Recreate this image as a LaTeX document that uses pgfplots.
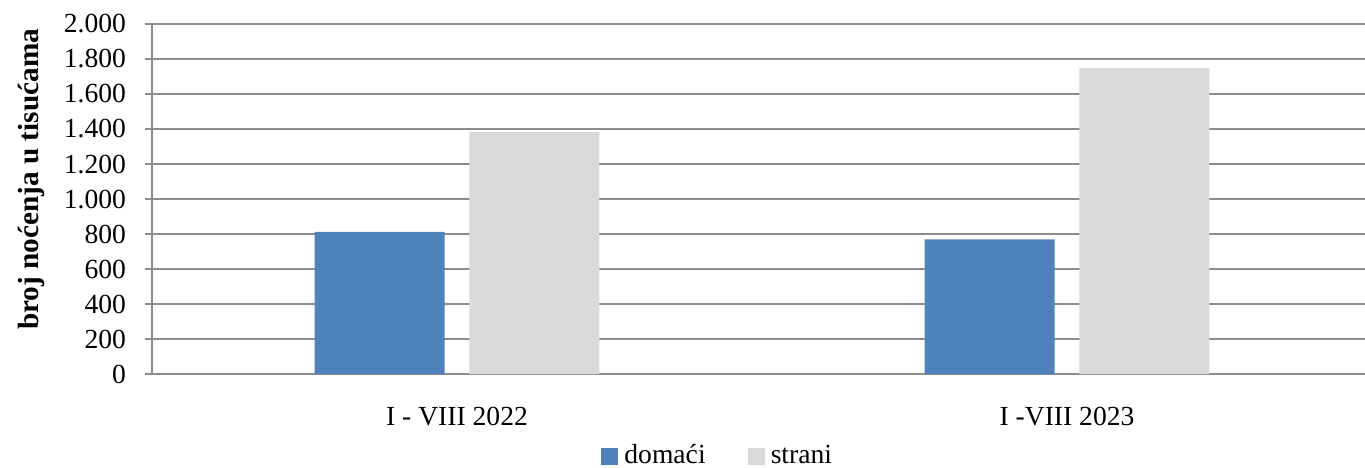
\documentclass[border=0pt]{standalone}
\usepackage{fontspec}
\setmainfont{Liberation Serif}
\usepackage{pgfplots}
\pgfplotsset{compat=1.18}
\definecolor{cblue}{HTML}{4F81BD}
\definecolor{cgrey}{HTML}{D9D9D9}
\definecolor{cgrid}{HTML}{8C8C8C}
\begin{document}
\fontsize{9.2pt}{11pt}\selectfont
\begin{tikzpicture}
\begin{axis}[
  scale only axis,
  width=404.3pt, height=116.67pt,
  xmin=-0.5, xmax=1.4885,
  ymin=0, ymax=2000,
  xtick={0,1},
  xticklabels={I - VIII 2022, I -VIII 2023},
  major x tick style={draw=none},
  ytick={0,200,...,2000},
  ymajorgrids,
  grid style={cgrid, line width=0.7pt},
  axis line style={cgrid, line width=0.7pt},
  axis x line*=bottom,
  axis y line*=left,
  y tick style={cgrid, line width=0.7pt},
  tick align=outside,
  major tick length=2.4pt,
  yticklabel style={font=\fontsize{9.2pt}{11pt}\selectfont, xshift=-3pt},
  xticklabel style={font=\fontsize{9.2pt}{11pt}\selectfont, yshift=-5.5pt},
  /pgf/number format/.cd, use comma, 1000 sep={.}, assume math mode=true,
  /pgfplots/.cd,
  scaled y ticks=false,
  ylabel={\textbf{broj noćenja u tisućama}},
  every axis y label/.style={at={(axis description cs:-0.099,0.556)}, rotate=90, anchor=center, font=\fontsize{9.75pt}{11pt}\selectfont},
  ybar, bar width=43.3pt,
  legend style={at={(axis description cs:0.468,-0.235)}, anchor=center, draw=none, legend columns=2, font=\fontsize{9.2pt}{11pt}\selectfont,
    /tikz/every even column/.append style={column sep=12pt}},
  legend image code/.code={\fill[#1] (0pt,-2.8pt) rectangle (5.7pt,2.9pt);},
  clip=false,
]
\addplot[fill=cblue, draw=none, bar shift=-25.8pt] coordinates {(0,813) (1,769)};
\addlegendentry{domaći}
\addplot[fill=cgrey, draw=none, bar shift=25.8pt] coordinates {(0,1383) (1,1749)};
\addlegendentry{strani}
\end{axis}
\pgfresetboundingbox
\path ([xshift=-50.67pt,yshift=-31pt]current axis.south west) rectangle ([yshift=8pt]current axis.north east);
\end{tikzpicture}
\end{document}
